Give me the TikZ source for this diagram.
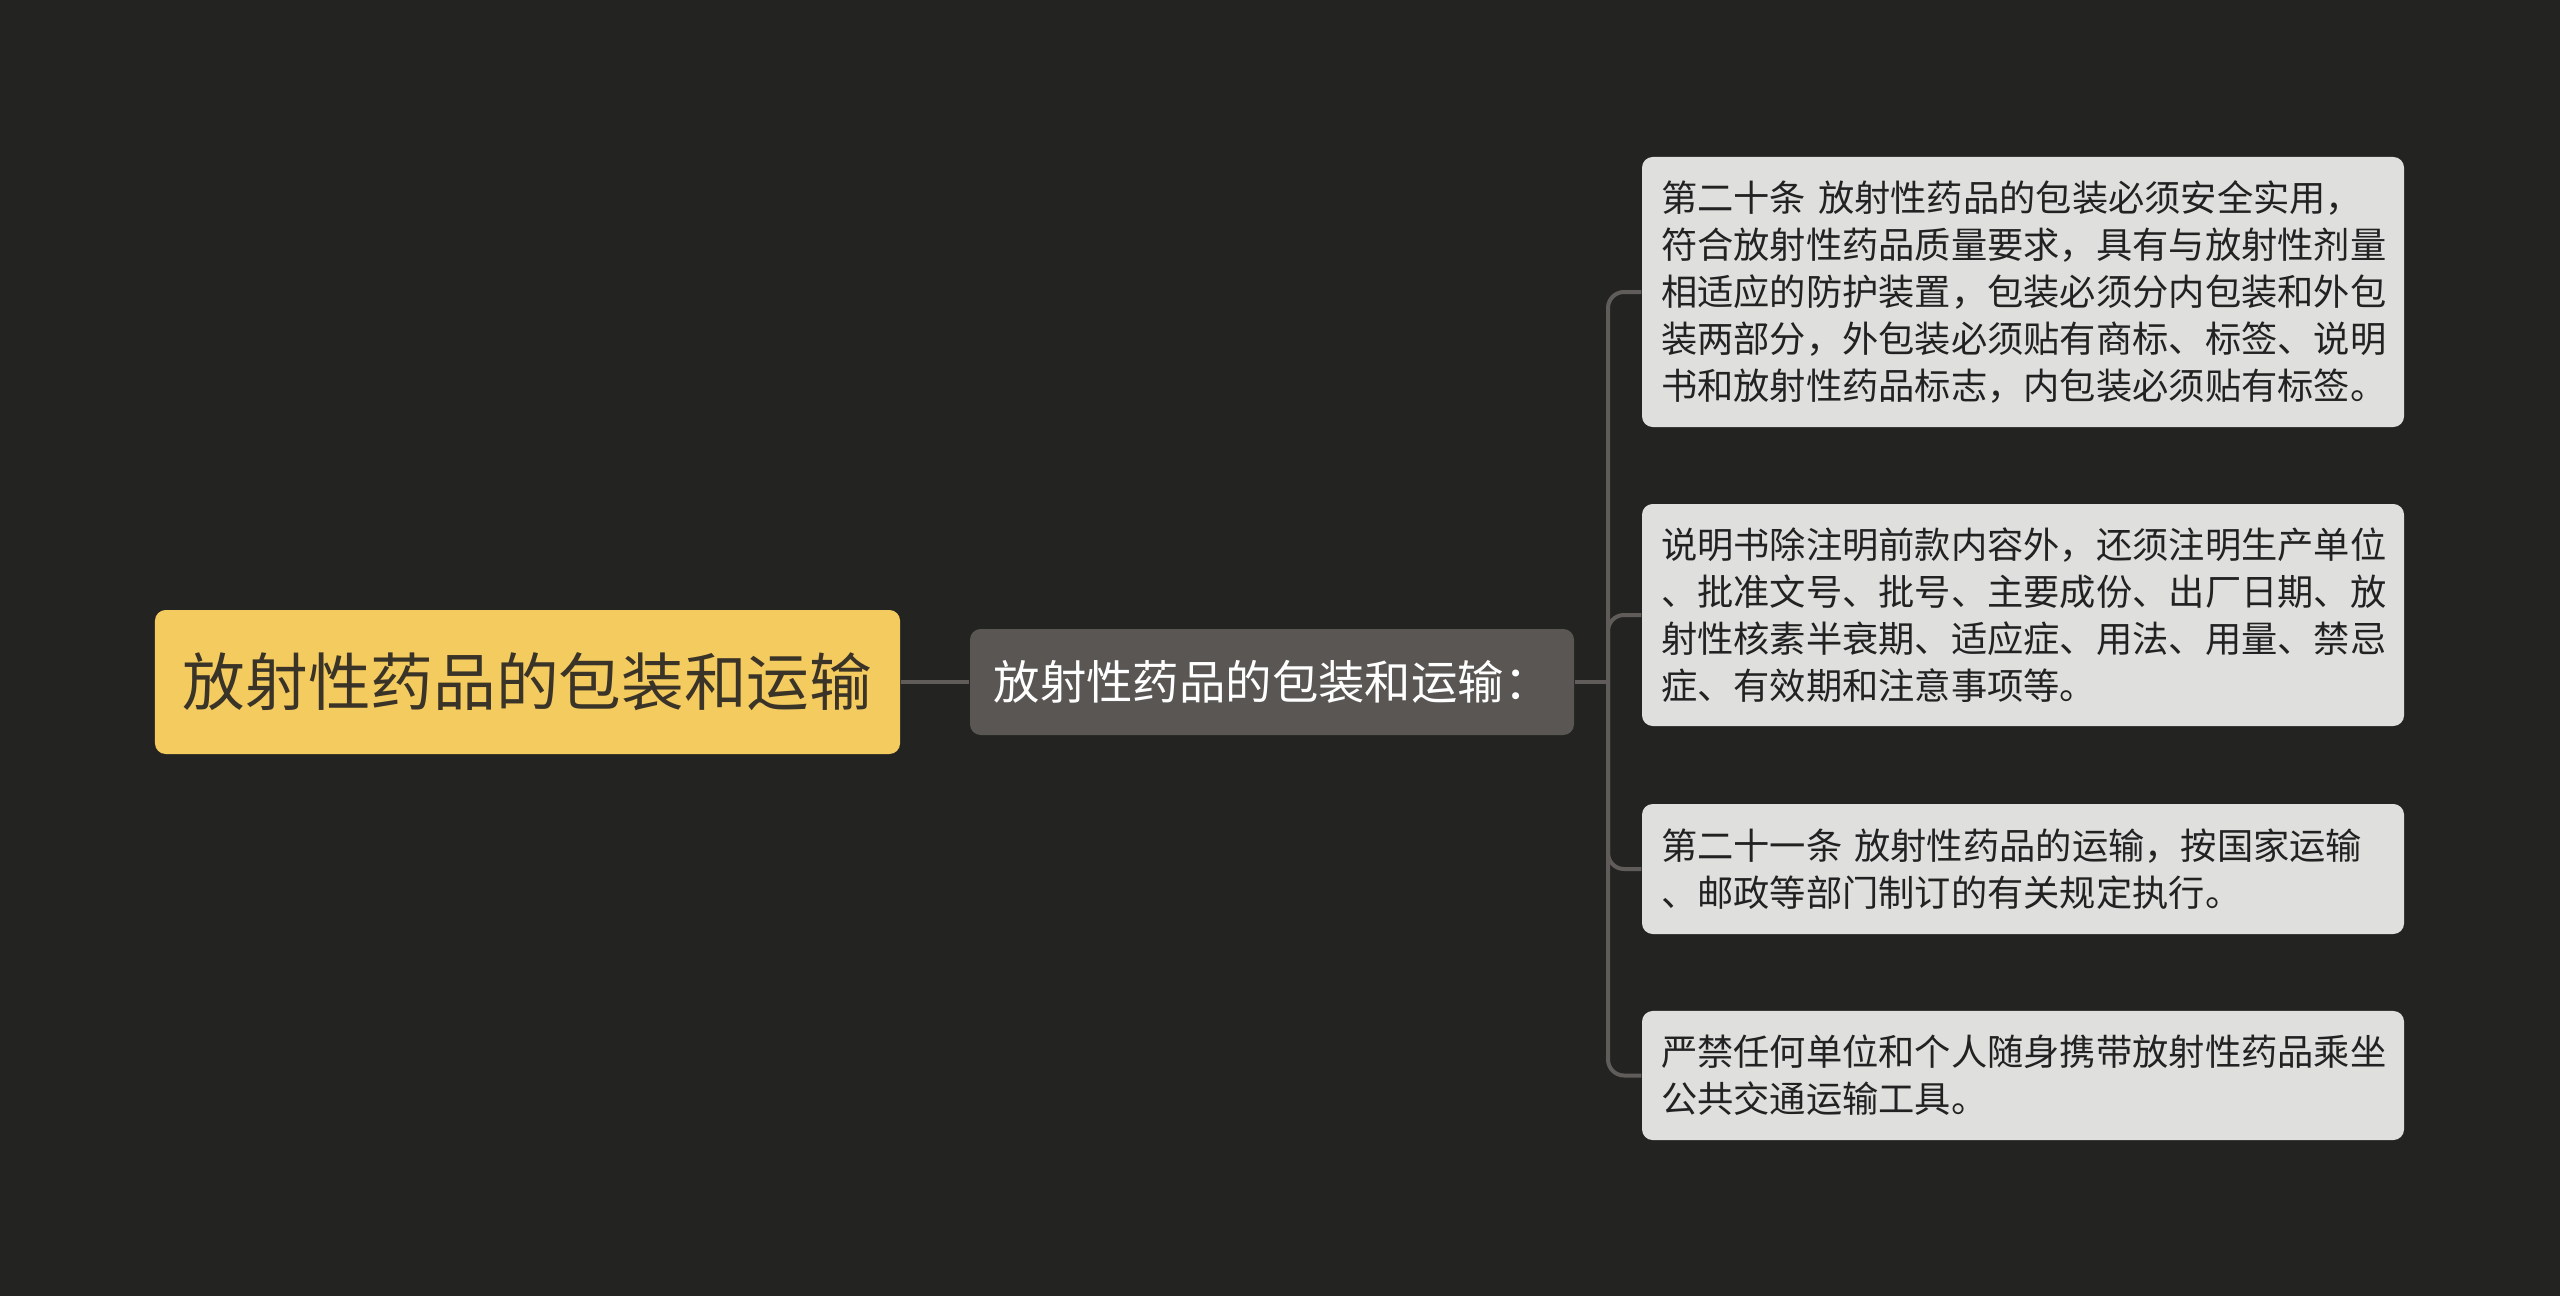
\documentclass[tikz,border=0pt]{standalone}
\usepackage{fontspec}
\setmainfont{Noto Sans CJK SC}
\definecolor{bg}{HTML}{232321}
\definecolor{rootfill}{HTML}{F4CB5E}
\definecolor{roottext}{HTML}{3A3328}
\definecolor{midfill}{HTML}{595654}
\definecolor{leaffill}{HTML}{DFDFDD}
\definecolor{leaftext}{HTML}{222222}
\definecolor{linec}{HTML}{5F5C5A}
\begin{document}
\begin{tikzpicture}[x=0.375pt,y=-0.375pt,
  rootbox/.style={fill=rootfill,rounded corners=4pt,minimum width=279.4pt,minimum height=54pt,inner sep=0pt,text=roottext,font=\fontsize{23.5pt}{28pt}\selectfont},
  midbox/.style={fill=midfill,rounded corners=4pt,minimum width=226.5pt,minimum height=39.75pt,inner sep=0pt,text=white,font=\fontsize{17.4pt}{21pt}\selectfont},
  leafbox/.style={fill=leaffill,rounded corners=4pt,minimum width=285.75pt,inner xsep=7.1pt,inner ysep=0pt,text width=271.5pt,align=left,text=leaftext,font=\fontsize{13.6pt}{17.7pt}\selectfont},
  conn/.style={draw=linec,line width=1.5pt},
  branch/.style={conn,rounded corners=6pt}]
\useasboundingbox (0,0) rectangle (2560,1295);
\fill[bg] (-10,-10) rectangle (2570,1305);
\node[rootbox] (root) at (527.5,682) {放射性药品的包装和运输};
\node[midbox] (mid) at (1272,682) {放射性药品的包装和运输：};
\node[leafbox,minimum height=101.25pt] (l1) at (2023,292) {第二十条 放射性药品的包装必须安全实用，\\符合放射性药品质量要求，具有与放射性剂量\\相适应的防护装置，包装必须分内包装和外包\\装两部分，外包装必须贴有商标、标签、说明\\书和放射性药品标志，内包装必须贴有标签。};
\node[leafbox,minimum height=83.25pt] (l2) at (2023,615) {说明书除注明前款内容外，还须注明生产单位\\、批准文号、批号、主要成份、出厂日期、放\\射性核素半衰期、适应症、用法、用量、禁忌\\症、有效期和注意事项等。};
\node[leafbox,minimum height=48.75pt] (l3) at (2023,869) {第二十一条 放射性药品的运输，按国家运输\\、邮政等部门制订的有关规定执行。};
\node[leafbox,minimum height=48.4pt] (l4) at (2023,1075.5) {严禁任何单位和个人随身携带放射性药品乘坐\\公共交通运输工具。};
\coordinate (j) at (1608,682);
\draw[conn] (root.east) -- (mid.west);
\draw[conn] (mid.east) -- (j);
\draw[branch] (j) |- (l1.west);
\draw[branch] (j) |- (l2.west);
\draw[branch] (j) |- (l3.west);
\draw[branch] (j) |- (l4.west);
\end{tikzpicture}
\end{document}
